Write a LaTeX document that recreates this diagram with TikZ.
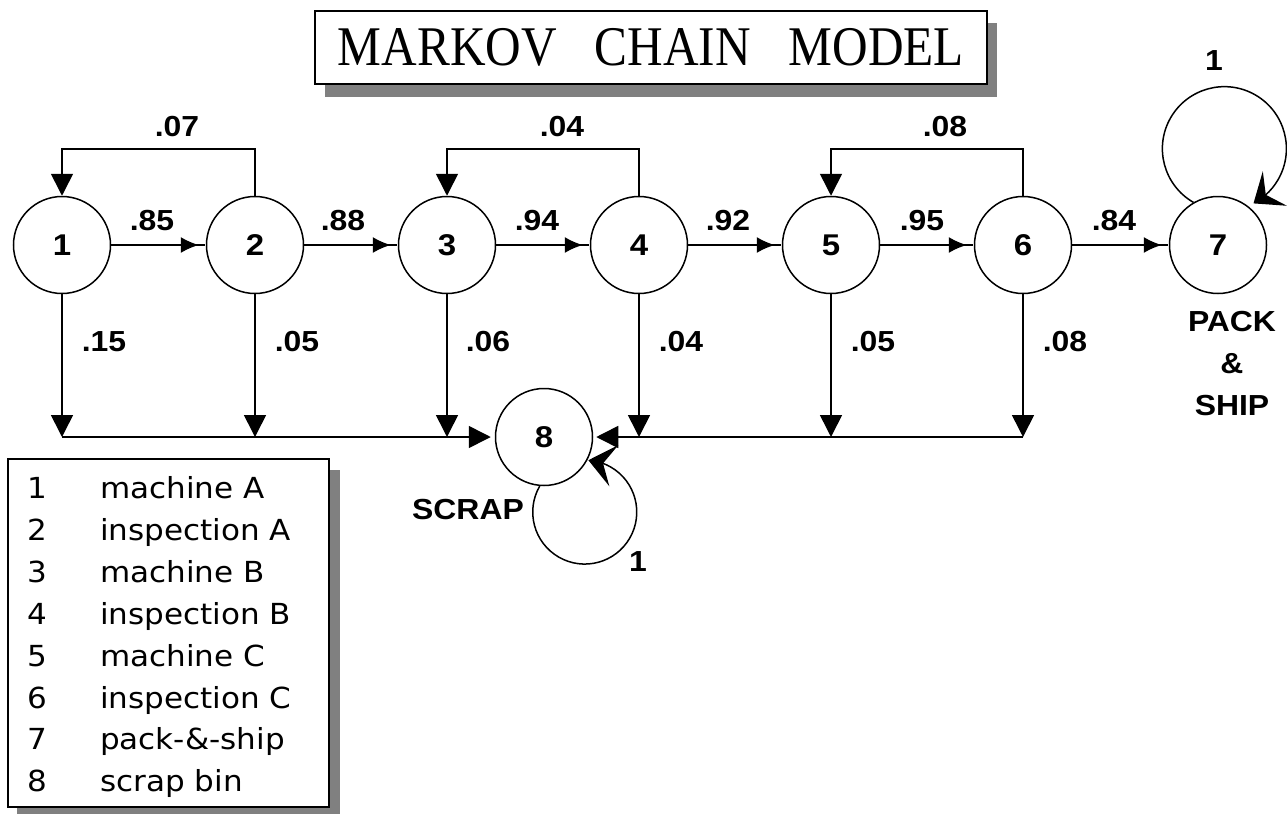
\documentclass[tikz,border=0pt]{standalone}
\usepackage{fontspec}
\setmainfont{Liberation Sans}
\newfontfamily\titlefont[FakeStretch=0.88]{Liberation Serif}
\newfontfamily\legfont[FakeStretch=1.07]{DejaVu Sans}
\newfontfamily\labfont[FakeStretch=1.1]{Liberation Sans}
\usetikzlibrary{arrows.meta,calc,bending}
\begin{document}
\begin{tikzpicture}[x=1pt,y=-1pt,
  state/.style={circle, draw, line width=1.5pt, minimum size=97pt, inner sep=0pt,
    font=\labfont\fontsize{30}{30}\selectfont\bfseries},
  lab/.style={inner sep=0pt, font=\labfont\fontsize{29}{29}\selectfont\bfseries},
  legnum/.style={inner sep=0pt, anchor=base, font=\legfont\fontsize{29}{29}\selectfont},
  legtxt/.style={inner sep=0pt, anchor=base west, font=\legfont\fontsize{29}{29}\selectfont},
  conn/.style={line width=1.6pt},
  harrow/.style={conn, -{Latex[length=18pt,width=16pt,sep=0pt]Rectangle[length=7pt,width=1.6pt,sep=0pt]}},
  bigarrow/.style={conn, -{Triangle[length=22pt,width=22pt]}},
  looparrow/.style={line width=1.5pt},
  looptip/.style={-{Stealth[length=26pt,width=42pt,inset=11pt,flex]}},
  shadowfill/.style={fill=black!50},
  boxframe/.style={draw, line width=2pt, fill=white}
]
\useasboundingbox (0,0) rectangle (1287,814);

% title
\fill[shadowfill] (325,23) rectangle (997,97);
\node[boxframe, minimum width=672pt, minimum height=73pt, inner sep=0pt,
  font=\titlefont\fontsize{56}{56}\selectfont] (title) at (651,47.5)
  {MARKOV\hspace{38pt}CHAIN\hspace{38pt}MODEL};

% helper coordinates
\coordinate (top) at (0,149);
\coordinate (bus) at (0,437);

% states
\node[state] (n1) at (62,245) {1};
\node[state] (n2) at (255,245) {2};
\node[state] (n3) at (447,245) {3};
\node[state] (n4) at (639,245) {4};
\node[state] (n5) at (831,245) {5};
\node[state] (n6) at (1023,245) {6};
\node[state] (n7) at (1218,245) {7};
\node[state] (n8) at (544,437) {8};

% forward transitions
\draw[harrow] (n1) -- (n2);
\draw[harrow] (n2) -- (n3);
\draw[harrow] (n3) -- (n4);
\draw[harrow] (n4) -- (n5);
\draw[harrow] (n5) -- (n6);
\draw[harrow] (n6) -- (n7);

% feedback transitions
\draw[bigarrow] (n2.north) -- (n2.north |- top) -| (n1.north);
\draw[bigarrow] (n4.north) -- (n4.north |- top) -| (n3.north);
\draw[bigarrow] (n6.north) -- (n6.north |- top) -| (n5.north);

% scrap transitions
\foreach \n in {n1,n2,n3,n4,n5,n6}{
  \draw[bigarrow] (\n.south) -- (\n.south |- bus);
}
\draw[bigarrow, shorten >=4pt] (n1.south |- bus) -- (n8.west);
\draw[bigarrow, shorten >=3pt] (n6.south |- bus) -- (n8.east);

% self loops
\draw[looparrow, looptip] (n7.120) arc[start angle=240, end angle=-62, radius=62pt];
\draw[looparrow, looptip] (n8.265) arc[start angle=150, end angle=446, radius=52pt];

% labels
\node[lab] (l12) at (152,221) {.85};
\node[lab] (l23) at (343,221) {.88};
\node[lab] (l34) at (537,221) {.94};
\node[lab] (l45) at (728,221) {.92};
\node[lab] (l56) at (922,221) {.95};
\node[lab] (l67) at (1114,221) {.84};
\node[lab] (l21) at (177,127) {.07};
\node[lab] (l43) at (562,127) {.04};
\node[lab] (l65) at (945,127) {.08};
\node[lab] (l18) at (104,342) {.15};
\node[lab] (l28) at (297,342) {.05};
\node[lab] (l38) at (488,342) {.06};
\node[lab] (l48) at (681,342) {.04};
\node[lab] (l58) at (873,342) {.05};
\node[lab] (l68) at (1065,342) {.08};
\node[lab] (l77) at (1214,61) {1};
\node[lab] (l88) at (638,562) {1};
\node[lab] (scrap) at (468,510) {SCRAP};
\node[lab, align=center, font=\labfont\fontsize{29}{42}\selectfont\bfseries] (ship) at (1232,364) {PACK\\\&\\SHIP};

% legend
\fill[shadowfill] (17,470) rectangle (340,814);
\node[boxframe, anchor=north west, minimum width=321pt, minimum height=348pt, inner sep=0pt] (legend) at (7,458) {};
\foreach \i/\t [count=\k from 0] in {1/machine A, 2/inspection A, 3/machine B, 4/inspection B,
  5/machine C, 6/inspection C, 7/pack-\&-ship, 8/scrap bin}{
  \node[legnum] (ln\i) at (37,{498.5+41.9*\k}) {\i};
  \node[legtxt] (lt\i) at (100,{498.5+41.9*\k}) {\t};
}
\end{tikzpicture}
\end{document}
